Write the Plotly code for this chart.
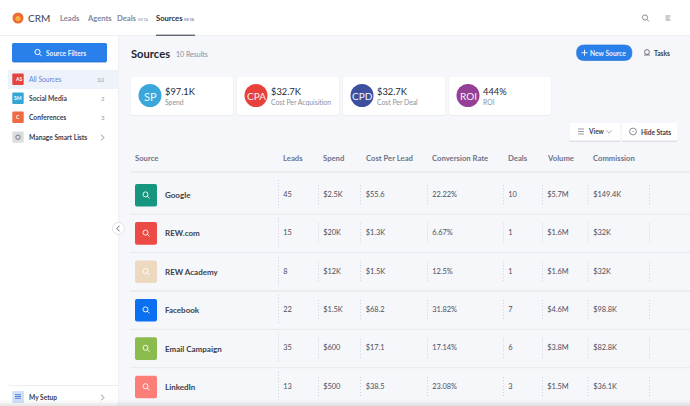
import plotly.graph_objects as go

# ---------- data ----------
sources = ["Google", "REW.com", "REW Academy", "Facebook", "Email Campaign", "LinkedIn"]
leads = ["45", "15", "8", "22", "35", "13"]
spend = ["$2.5K", "$20K", "$12K", "$1.5K", "$600", "$500"]
cost_per_lead = ["$55.6", "$1.3K", "$1.5K", "$68.2", "$17.1", "$38.5"]
conversion = ["22.22%", "6.67%", "12.5%", "31.82%", "17.14%", "23.08%"]
deals = ["10", "1", "1", "7", "6", "3"]
volume = ["$5.7M", "$1.6M", "$1.6M", "$4.6M", "$3.8M", "$1.5M"]
commission = ["$149.4K", "$32K", "$32K", "$98.8K", "$82.8K", "$36.1K"]
source_colors = ["#17967f", "#ec4a45", "#ecd9c0", "#0a6ff0", "#8bbb4d", "#fb7f78"]
headers = ["Source", "Leads", "Spend", "Cost Per Lead", "Conversion Rate", "Deals", "Volume", "Commission"]
stat_abbr = ["SP", "CPA", "CPD", "ROI"]
stat_values = ["$97.1K", "$32.7K", "$32.7K", "444%"]
stat_labels = ["Spend", "Cost Per Acquisition", "Cost Per Deal", "ROI"]
stat_colors = ["#39a7db", "#e8403a", "#3d4f9f", "#963f96"]
side_abbr = ["AS", "SM", "C"]
side_labels = ["All Sources", "Social Media", "Conferences"]
side_counts = ["10", "2", "3"]
side_colors = ["#e5433f", "#35a5d8", "#ee6a43"]
nav = ["Leads", "Agents", "Deals", "Sources"]

FONT = "Lato"
BLUE = "#2a80ea"
shapes, ann = [], []


def rr(x0, y0, x1, y1, r=2):
    return (f"M{x0+r},{y0} L{x1-r},{y0} Q{x1},{y0} {x1},{y0+r} L{x1},{y1-r} Q{x1},{y1} {x1-r},{y1} "
            f"L{x0+r},{y1} Q{x0},{y1} {x0},{y1-r} L{x0},{y0+r} Q{x0},{y0} {x0+r},{y0} Z")


def box(x0, y0, x1, y1, fill, r=0, line=None, lw=0):
    s = dict(type="path", path=rr(x0, y0, x1, y1, r), fillcolor=fill, layer="below",
             line=dict(width=lw, color=line or fill))
    shapes.append(s)


def hline(x0, x1, y, color, w=1):
    shapes.append(dict(type="line", x0=x0, x1=x1, y0=y, y1=y, layer="below", line=dict(color=color, width=w)))


def vdot(x, y0, y1, color="#d0d2db"):
    shapes.append(dict(type="line", x0=x, x1=x, y0=y0, y1=y1, layer="below",
                       line=dict(color=color, width=1, dash="1px,2px")))


def circ(cx, cy, r, fill="rgba(0,0,0,0)", line=None, lw=0):
    shapes.append(dict(type="circle", x0=cx-r, x1=cx+r, y0=cy-r, y1=cy+r, fillcolor=fill, layer="above",
                       line=dict(width=lw, color=line or fill)))


def seg(x0, y0, x1, y1, color, w=1):
    shapes.append(dict(type="line", x0=x0, x1=x1, y0=y0, y1=y1, layer="above", line=dict(color=color, width=w)))


def mag(cx, cy, r, color, w=1.1):
    circ(cx-0.5, cy-0.5, r, line=color, lw=w)
    seg(cx-0.5+r*0.7, cy-0.5+r*0.7, cx-0.5+r*1.6, cy-0.5+r*1.6, color, w)


def chev(x, y, color="#7a7f8e", d=1):
    shapes.append(dict(type="path", path=f"M{x-1.2*d},{y-2.8} L{x+1.4*d},{y} L{x-1.2*d},{y+2.8}", layer="above",
                       line=dict(color=color, width=0.9)))


def text(x, y, s, size=8, color="#444756", weight=400, anchor="left"):
    ann.append(dict(x=x, y=y, text=s, showarrow=False, xanchor=anchor, yanchor="middle",
                    font=dict(family=FONT, size=size, color=color, weight=weight), xref="x", yref="y",
                    borderpad=0, borderwidth=0))


# ---------- chrome ----------
box(0, 0, 690, 35, "#ffffff")
hline(0, 690, 35.5, "#eceef2", 1)
box(0, 36, 118, 406, "#ffffff")
shapes.append(dict(type="line", x0=118.5, x1=118.5, y0=36, y1=406, layer="below", line=dict(color="#eff0f4", width=1)))

# top nav
circ(18, 18, 5.5, "#ee6b35")
circ(18, 18.5, 2.6, "#f7b23c")
text(27.5, 18, "CRM", 10, "#3e4150", 400)
for lab, x in zip(nav, [60, 87, 117, 156]):
    active = lab == "Sources"
    text(x, 18.3, lab, 7.6, "#2b2d3a" if active else "#82869c", 700)
text(137.5, 19, "BETA", 4.2, "#9a9db0", 400)
text(184, 19, "BETA", 4.2, "#70748a", 400)
hline(156, 195, 35.2, "#2b2d3a", 1)
mag(645.5, 18, 2.6, "#7d808c", 0.9)
for i, w in enumerate([5, 4, 5]):
    seg(665.5, 16 + i*2, 665.5 + w, 16 + i*2, "#7d808c", 0.8)

# sidebar
box(12, 43, 107, 62, BLUE, 1.5)
hline(13, 106, 62, "#2068c4", 0.8)
mag(38, 52.5, 2.6, "#ffffff", 1)
text(46, 52.7, "Source Filters", 6.6, "#e9f2ff", 700)
box(8, 70, 118, 89, "#eef2fb")
side_y = [79.3, 98.3, 117.2]
for ab, lab, n, col, y in zip(side_abbr, side_labels, side_counts, side_colors, side_y):
    box(12.3, y-5.7, 23.7, y+5.7, col, 1)
    text(18, y, ab, 5, "#ffffff", 700, "center")
    text(29, y, lab, 6.7, "#5b86d8" if lab == "All Sources" else "#3b3d4a", 700 if lab != "All Sources" else 400)
    text(105, y+0.6, n, 6.2, "#9a9daa", 400, "right")
box(12.3, 131.5, 23.7, 142.8, "#dcdde0", 1)
circ(18, 137.2, 2.2, line="#777a80", lw=1)
text(29, 137, "Manage Smart Lists", 6.7, "#3b3d4a", 700)
chev(102.5, 137.5)
hline(8, 118, 385.5, "#eceef2", 1)
box(12.3, 391, 24, 403, "#cfe0f7", 1)
for dy in (-1.8, 0, 1.8):
    seg(15, 396.5+dy, 21, 396.5+dy, "#5b86d8", 1)
text(29, 397, "My Setup", 6.6, "#3b3d4a", 700)
chev(102.5, 397.5)
circ(118.3, 228.5, 6, "#ffffff", "#d8dae0", 0.8)
chev(118.3, 228.5, "#555865", -1)

# title bar
text(131, 53, "Sources", 11.2, "#23252f", 700)
text(176, 54, "10 Results", 7, "#8a8d9c", 400)
box(576.5, 45, 632, 60.5, BLUE, 7.7, "#1f6fd3", 0.6)
seg(581.5, 52.7, 587.5, 52.7, "#e9f2ff", 1)
seg(584.5, 49.7, 584.5, 55.7, "#e9f2ff", 1)
text(590, 52.8, "New Source", 6.7, "#e9f2ff", 700)
circ(647, 52, 2.4, line="#5a5c66", lw=0.8)
seg(644, 55, 650, 55, "#5a5c66", 0.8)
text(654, 52.5, "Tasks", 6.6, "#3a3c48", 700)

# stat cards
card_x = [131, 237, 343, 449]
for ab, v, lab, col, x in zip(stat_abbr, stat_values, stat_labels, stat_colors, card_x):
    box(x-0.3, 77.5, x+102.3, 115.8, "#e9eaee", 2)
    box(x, 77, x+102, 115, "#ffffff", 2)
    circ(x+19, 95.5, 11.5, col)
    ann_size = 11 if len(ab) == 2 else 10
    text(x+19, 96, ab, ann_size, "#f4f4fa", 400, "center")
    text(x+34, 91.8, v, 9.3, "#262833", 400)
    text(x+34, 101.5, lab, 6.8, "#8d909c", 400)

# view buttons
for x0, x1 in [(569.5, 620), (622, 677)]:
    box(x0, 124.5, x1, 142, "#dfe0e4", 1)
    box(x0, 123, x1, 140.5, "#ffffff", 1)
for i, dy in enumerate((-2.5, 0, 2.5)):
    seg(578, 131.5+dy, 584, 131.5+dy, "#6b6e78", 0.7)
text(588, 131.5, "View", 6.5, "#3a3c48", 700)
shapes.append(dict(type="path", path="M606.5,130.5 L609.2,133 L611.8,130.5", layer="above", line=dict(color="#7a7d88", width=0.7)))
circ(633, 131.5, 3.4, line="#6b6e78", lw=0.8)
circ(633, 131.5, 0.6, "#6b6e78")
text(641, 131.5, "Hide Stats", 6.6, "#3a3c48", 700)

# table
col_x = [135, 283, 323, 365.5, 432, 508, 547, 593]
for h, x in zip(headers, col_x):
    text(x, 158.3, h, 7.7, "#6f7388", 700)
hline(131, 690, 172, "#e3e5ea", 1.2)

row_y = [195.2, 233.4, 271.8, 310.2, 348.6, 387]
sep_y = [214.2, 252.5, 291, 329.4, 367.7]
for y, w in zip(sep_y, [1, 1, 1.4, 1, 1]):
    hline(130, 690, y, "#e8e9ee", w)

div_x = [278.5, 318.5, 360.5, 427.5, 503.5, 542.5, 588, 649.5]
for y in row_y:
    for i, x in enumerate(div_x):
        d = 15 if i == 0 else 10
        vdot(x, y-d, y+d)

for name, col, y in zip(sources, source_colors, row_y):
    box(135, y-11.3, 157, y+11.3, col, 2)
    mag(146, y-0.3, 2.5, "rgba(255,255,255,0.9)", 1)
    text(165, y, name, 8, "#3c3e4b", 700)

columns = [leads, spend, cost_per_lead, conversion, deals, volume, commission]
tx, ty, tt = [], [], []
for x, col in zip(col_x[1:], columns):
    for y, v in zip(row_y, col):
        tx.append(x + 0.2)
        ty.append(y)
        tt.append(v)

fig = go.Figure(go.Scatter(x=tx, y=ty, text=tt, mode="text", textposition="middle right", hoverinfo="skip",
                           textfont=dict(family=FONT, size=7.4, color="#4c4f5e")))

# soft fade along the bottom edge
for i, a in enumerate([0.04, 0.05, 0.07, 0.09]):
    shapes.append(dict(type="rect", x0=0, x1=690, y0=400+i*1.5, y1=406, fillcolor=f"rgba(150,152,160,{a})",
                       line=dict(width=0), layer="above"))

fig.update_layout(
    width=690, height=406, margin=dict(l=0, r=0, t=0, b=0), showlegend=False,
    paper_bgcolor="#f6f7fa", plot_bgcolor="#f6f7fa",
    xaxis=dict(range=[0, 690], visible=False, fixedrange=True),
    yaxis=dict(range=[406, 0], visible=False, fixedrange=True),
    shapes=shapes, annotations=ann,
)
fig.write_html("out.html", config={"displayModeBar": False},
               post_script="document.body.style.margin='0';")
